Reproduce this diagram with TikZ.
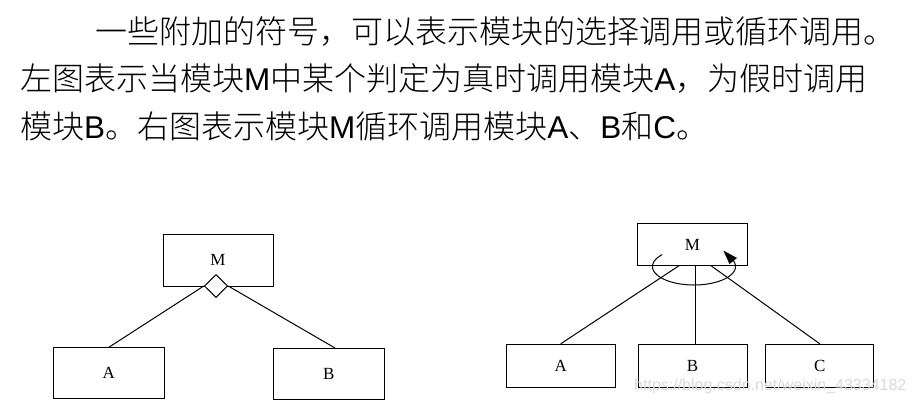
\documentclass[tikz,border=0pt]{standalone}
\usepackage{fontspec}
\setmainfont{Liberation Serif}
\newfontfamily\cjk{Noto Sans CJK SC Light}
\newfontfamily\arial{Liberation Sans}
\newcommand{\lat}[1]{{\arial\fontsize{31.5}{31.5}\selectfont #1}}
\usetikzlibrary{shapes.geometric}
\begin{document}
\begin{tikzpicture}[x=1pt,y=-1pt,
  box/.style={draw,line width=1pt,inner sep=0pt,font=\fontsize{17}{17}\selectfont},
  link/.style={line width=1pt},
  para/.style={anchor=west,inner sep=0pt,font=\cjk\fontsize{32}{32}\selectfont},
  wm/.style={anchor=west,inner sep=0pt,text=black!15,font=\arial\fontsize{16}{16}\selectfont}]
\useasboundingbox (0,0) rectangle (915,405);
% text
\node[para] (t1) at (95,31.5) {一些附加的符号，可以表示模块的选择调用或循环调用。};
\node[para] (t2) at (20,78.5) {左图表示当模块\lat{M}中某个判定为真时调用模块\lat{A}，为假时调用};
\node[para] (t3) at (20,126.5) {模块\lat{B}。右图表示模块\lat{M}循环调用模块\lat{A}、\lat{B}和\lat{C}。};
% left diagram
\node[box,minimum width=110pt,minimum height=52pt] (M1) at (218,260) {M};
\node[box,minimum width=111pt,minimum height=51pt] (A1) at (108.8,373.3) {A};
\node[box,minimum width=110.7pt,minimum height=51pt] (B1) at (328.7,373.5) {B};
\node[draw,line width=1pt,fill=white,shape=diamond,inner sep=0pt,minimum width=23.4pt,minimum height=23pt] (D) at (216,286) {};
\coordinate (b1t) at (335,348);
\draw[link] (D.west) -- (A1.north);
\draw[link] (D.east) -- (b1t);
% right diagram
\node[box,minimum width=110pt,minimum height=42.4pt] (M2) at (692.3,244.5) {M};
\node[box,minimum width=109.3pt,minimum height=43pt] (A2) at (560.7,365.8) {A};
\node[box,minimum width=109pt,minimum height=43pt] (B2) at (692.5,365.8) {B};
\node[box,minimum width=108.3pt,minimum height=43pt] (C2) at (819.8,365.8) {C};
\coordinate (ma) at (679,265.7);
\coordinate (mb) at (695.7,265.7);
\coordinate (mc) at (711,265.7);
\coordinate (bt) at (695.7,344.3);
\draw[link] (ma) -- (A2.north);
\draw[link] (mb) -- (bt);
\draw[link] (mc) -- (C2.north);
% loop symbol
\draw[line width=1pt] plot[domain=140:382,samples=80,smooth] ({694+41.5*cos(\x)},{266.5-18.5*sin(\x)});
\coordinate (tip) at (723.3,250.5);
\coordinate (bl) at (729.5,264);
\coordinate (br) at (737,258);
\fill (tip) -- (bl) -- (br) -- cycle;
% watermark
\node[wm] (w) at (634,386) {https://blog.csdn.net/weixin\_43334182};
\end{tikzpicture}
\end{document}
